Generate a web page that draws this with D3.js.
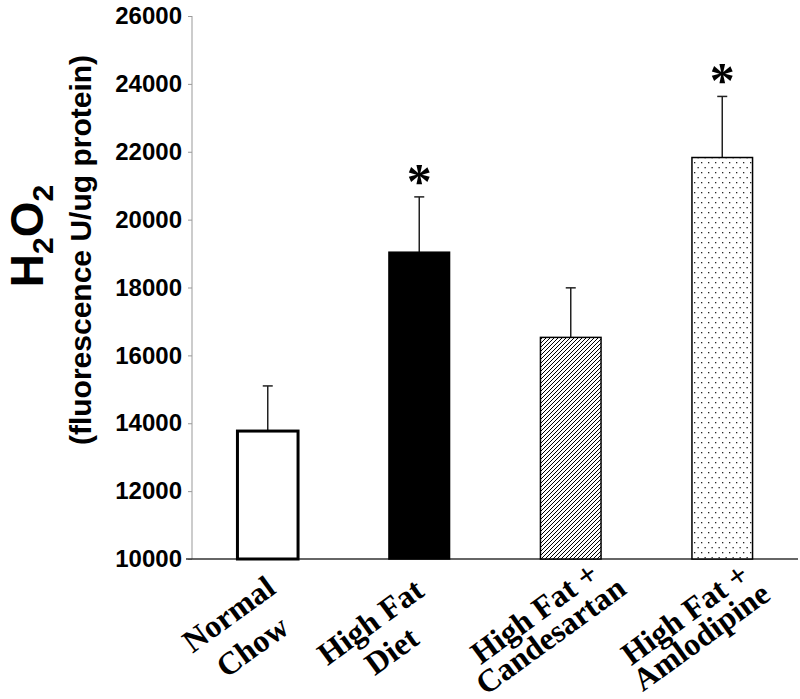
<!DOCTYPE html>
<html>
<head>
<meta charset="utf-8">
<script src="https://cdn.jsdelivr.net/npm/d3@7"></script>
<style>
  body { margin: 0; background: #fff; }
  svg { display: block; }
</style>
</head>
<body>
<div id="chart"></div>
<script>
// data
const groups = ["Normal Chow", "High Fat Diet", "High Fat + Candesartan", "High Fat + Amlodipine"];
const labelLines = [["Normal", "Chow"], ["High Fat", "Diet"], ["High Fat +", "Candesartan"], ["High Fat +", "Amlodipine"]];
const means = [13770, 19040, 16530, 21830];
const sems = [1330, 1630, 1460, 1800];
const significant = [false, true, false, true];
const yTicks = [10000, 12000, 14000, 16000, 18000, 20000, 22000, 24000, 26000];

// layout
const width = 800, height = 699;
const axisX = 192, axisBottom = 559, axisTop = 16, plotRight = 798;
const fills = ["#fff", "#000", "url(#hatch)", "url(#dots)"];
const strokeW = [3, 1.5, 1.5, 1.5];
// label block placement: offset of baseline midpoint from bar centre / axis, and line spacing
const labelShift = [[-21, 80], [-32, 86], [-22, 74], [-23, 75]];
const labelGap = [40, 36, 28, 28];

let svg = d3.select("#chart")
            .append("svg")
            .attr("width", width)
            .attr("height", height);

let defs = svg.append("defs");

let hatch = defs.append("pattern")
    .attr("id", "hatch")
    .attr("patternUnits", "userSpaceOnUse")
    .attr("width", 4)
    .attr("height", 4);
hatch.append("rect").attr("width", 4).attr("height", 4).attr("fill", "#fff");
hatch.append("path")
    .attr("d", "M-1,1 L1,-1 M0,4 L4,0 M3,5 L5,3")
    .attr("stroke", "#000")
    .attr("stroke-width", 1);

let dots = defs.append("pattern")
    .attr("id", "dots")
    .attr("patternUnits", "userSpaceOnUse")
    .attr("width", 7)
    .attr("height", 10);
dots.append("rect").attr("width", 7).attr("height", 10).attr("fill", "#fff");
dots.append("rect").attr("x", 1).attr("y", 2).attr("width", 1.3).attr("height", 1.3).attr("fill", "#222");
dots.append("rect").attr("x", 4.5).attr("y", 7).attr("width", 1.3).attr("height", 1.3).attr("fill", "#222");

let x = d3.scaleBand()
          .domain(groups)
          .range([axisX, plotRight])
          .paddingInner(0.6)
          .paddingOuter(0.3);

let y = d3.scaleLinear()
          .domain([10000, 26000])
          .range([axisBottom, axisTop]);

// y axis
svg.append("g")
   .attr("transform", "translate(" + axisX + ",0)")
   .call(d3.axisLeft(y).tickValues(yTicks).tickSize(4).tickFormat(d3.format("d")))
   .call(g => g.select(".domain").attr("stroke", "#999").attr("d", "M0," + axisTop + "V" + axisBottom))
   .call(g => g.selectAll(".tick line").attr("stroke", "#999"))
   .call(g => g.selectAll(".tick text")
               .attr("x", -10)
               .attr("fill", "#000")
               .style("font-family", "'Liberation Sans', Arial, sans-serif")
               .style("font-weight", "bold")
               .style("font-size", "24px"));

// x axis baseline
svg.append("line")
   .attr("x1", axisX - 6)
   .attr("x2", plotRight)
   .attr("y1", axisBottom)
   .attr("y2", axisBottom)
   .attr("stroke", "#333")
   .attr("stroke-width", 1.5);

let data = groups.map((g, i) => ({ group: g, mean: means[i], sem: sems[i], sig: significant[i], i: i }));

// error bars (upper only)
let err = svg.append("g").selectAll("g")
   .data(data)
   .enter()
   .append("g");

err.append("line")
   .attr("x1", d => x(d.group) + x.bandwidth() / 2)
   .attr("x2", d => x(d.group) + x.bandwidth() / 2)
   .attr("y1", d => y(d.mean))
   .attr("y2", d => y(d.mean + d.sem))
   .attr("stroke", "#222")
   .attr("stroke-width", 1.5);

err.append("line")
   .attr("x1", d => x(d.group) + x.bandwidth() / 2 - 5)
   .attr("x2", d => x(d.group) + x.bandwidth() / 2 + 5)
   .attr("y1", d => y(d.mean + d.sem))
   .attr("y2", d => y(d.mean + d.sem))
   .attr("stroke", "#222")
   .attr("stroke-width", 1.5);

// bars
svg.append("g")
   .selectAll("rect")
   .data(data)
   .enter()
   .append("rect")
   .attr("x", d => x(d.group))
   .attr("y", d => y(d.mean))
   .attr("width", x.bandwidth())
   .attr("height", d => y(10000) - y(d.mean))
   .attr("fill", d => fills[d.i])
   .attr("stroke", "#000")
   .attr("stroke-width", d => strokeW[d.i]);

// significance asterisks
svg.append("g")
   .selectAll("text")
   .data(data.filter(d => d.sig))
   .enter()
   .append("text")
   .attr("x", d => x(d.group) + x.bandwidth() / 2)
   .attr("y", d => y(d.mean + d.sem) + 1)
   .attr("text-anchor", "middle")
   .style("font-family", "'Liberation Serif', 'Times New Roman', serif")
   .style("font-weight", "bold")
   .style("font-size", "50px")
   .text("*");

// category labels, rotated
let lab = svg.append("g")
   .selectAll("g")
   .data(data)
   .enter()
   .append("g")
   .attr("transform", d => "translate(" + (x(d.group) + x.bandwidth() / 2 + labelShift[d.i][0]) + "," +
                           (axisBottom + labelShift[d.i][1]) + ") rotate(-36)");

lab.append("text")
   .attr("text-anchor", "middle")
   .style("font-family", "'Liberation Serif', 'Times New Roman', serif")
   .style("font-weight", "bold")
   .style("font-size", "32px")
   .selectAll("tspan")
   .data(d => labelLines[d.i].map((t, j) => ({ t: t, j: j, gap: labelGap[d.i] })))
   .enter()
   .append("tspan")
   .attr("x", 0)
   .attr("y", d => (d.j === 0 ? -0.5 : 0.5) * d.gap)
   .text(d => d.t);

// y axis title
let title = svg.append("g")
   .attr("transform", "translate(43,236) rotate(-90)");

let t1 = title.append("text")
   .attr("text-anchor", "middle")
   .style("font-family", "'Liberation Sans', Arial, sans-serif")
   .style("font-weight", "bold")
   .style("font-size", "46px");
t1.append("tspan").text("H");
t1.append("tspan").attr("dy", 10).style("font-size", "30px").text("2");
t1.append("tspan").attr("dy", -10).text("O");
t1.append("tspan").attr("dy", 10).style("font-size", "30px").text("2");

svg.append("text")
   .attr("transform", "translate(91,250) rotate(-90)")
   .attr("text-anchor", "middle")
   .style("font-family", "'Liberation Sans', Arial, sans-serif")
   .style("font-weight", "bold")
   .style("font-size", "30px")
   .text("(fluorescence U/ug protein)");
</script>
</body>
</html>
